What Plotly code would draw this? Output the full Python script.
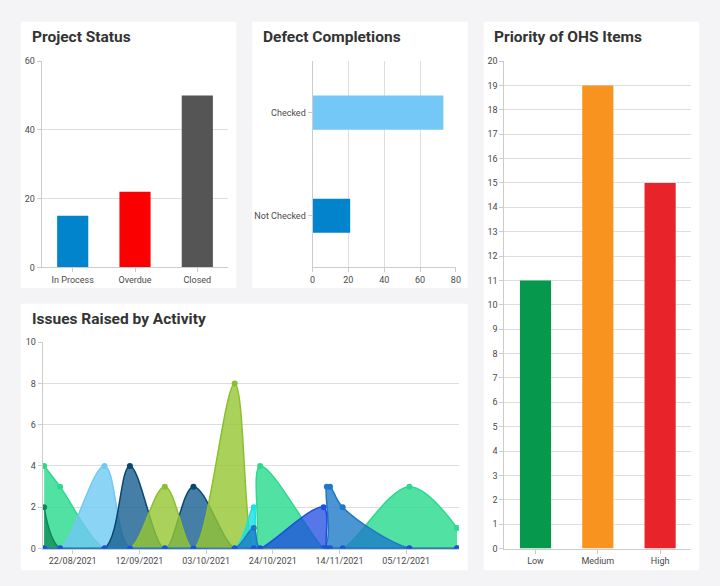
import plotly.graph_objects as go

# ---- data ----
status_labels = ["In Process", "Overdue", "Closed"]
status_values = [15, 22, 50]

defect_labels = ["Not Checked", "Checked"]
defect_values = [21, 73]

ohs_labels = ["Low", "Medium", "High"]
ohs_values = [11, 19, 15]

issue_dates = ["2021-08-13", "2021-08-18", "2021-09-01", "2021-09-09", "2021-09-20",
               "2021-09-29", "2021-10-12", "2021-10-18", "2021-10-20", "2021-11-09",
               "2021-11-10", "2021-11-11", "2021-11-15", "2021-12-06", "2021-12-21"]
issues_mint = [4, 3, 0, 0, 0, 0, 0, 0, 4, 0, 0, 0, 0, 3, 1]
issues_darkgreen = [2, 0, 0, 0, 0, 0, 0, 0, 0, 0, 0, 0, 0, 0, 0]
issues_lightblue = [0, 0, 4, 0, 0, 0, 0, 0, 0, 0, 0, 0, 0, 0, 0]
issues_navy = [0, 0, 0, 4, 0, 3, 0, 0, 0, 0, 0, 0, 0, 0, 0]
issues_olive = [0, 0, 0, 0, 3, 0, 8, 0, 0, 0, 0, 0, 0, 0, 0]
issues_cyan = [0, 0, 0, 0, 0, 0, 0, 2, 0, 0, 0, 0, 0, 0, 0]
issues_steel = [0, 0, 0, 0, 0, 0, 0, 1, 0, 0, 3, 3, 2, 0, 0]
issues_royal = [0, 0, 0, 0, 0, 0, 0, 0, 0, 2, 0, 0, 0, 0, 0]

# ---- page geometry (pixels of a 720x586 page) ----
W, H = 720, 586

def px_x(x):
    return x / W

def px_y(y):
    return 1 - y / H

GRID = "#dedede"
AXIS = "#cccccc"
TICKFONT = dict(family="Roboto", size=9, color="#4a4a4a")

fig = go.Figure()

# Project Status
fig.add_trace(go.Bar(x=status_labels, y=status_values,
                     marker=dict(color=["#0284cc", "#fa0000", "#555555"], line_width=0),
                     xaxis="x", yaxis="y"))

# Defect Completions
fig.add_trace(go.Bar(x=defect_values, y=defect_labels, orientation="h", width=0.33,
                     marker=dict(color=["#0284cc", "#73c8f8"], line_width=0),
                     xaxis="x2", yaxis="y2"))

# Priority of OHS Items
fig.add_trace(go.Bar(x=ohs_labels, y=ohs_values,
                     marker=dict(color=["#06994d", "#f7931e", "#e8232a"], line_width=0),
                     xaxis="x3", yaxis="y3"))

# Issues Raised by Activity - overlapping spline areas
area_series = [
    (issues_mint, "#2ed88e", "rgba(38,217,140,0.8)"),
    (issues_darkgreen, "#12855a", "rgba(19,141,90,0.8)"),
    (issues_lightblue, "#6fc9f2", "rgba(111,201,242,0.8)"),
    (issues_navy, "#08476e", "rgba(22,95,145,0.8)"),
    (issues_olive, "#8cbf2f", "rgba(149,199,49,0.8)"),
    (issues_cyan, "#1ee0e0", "rgba(20,224,224,0.8)"),
    (issues_steel, "#1f78c4", "rgba(30,124,199,0.8)"),
    (issues_royal, "#1d4fe0", "rgba(30,74,224,0.75)"),
]
for vals, line_col, fill_col in area_series:
    fig.add_trace(go.Scatter(x=issue_dates, y=vals, mode="lines+markers",
                             line=dict(color=line_col, width=1.5, shape="spline", smoothing=1),
                             marker=dict(color=line_col, size=6),
                             fill="tozeroy", fillcolor=fill_col,
                             xaxis="x4", yaxis="y4"))

# white panel cards
panels = [(18, 17, 236, 288), (252, 17, 470, 288), (486, 17, 704, 575), (18, 304, 470, 575)]
for x0, y0, x1, y1 in panels:
    fig.add_shape(type="rect", xref="paper", yref="paper",
                  x0=px_x(x0), x1=px_x(x1), y0=px_y(y1), y1=px_y(y0),
                  fillcolor="white", line_width=0, layer="below")

# titles (positions nudged for the annotation's own padding)
titles = [("Project Status", 27, 33), ("Defect Completions", 261, 33),
          ("Priority of OHS Items", 494, 33), ("Issues Raised by Activity", 27, 319)]
for txt, x, y in titles:
    fig.add_annotation(text="<b>" + txt + "</b>", xref="paper", yref="paper",
                       x=px_x(x), y=px_y(y), xanchor="left", yanchor="middle",
                       showarrow=False, font=dict(family="Roboto", size=15.5, color="#333333"))

cat_axis = dict(showgrid=False, showline=True, linecolor=AXIS, ticks="outside",
                ticklen=4, tickcolor=AXIS, tickfont=TICKFONT, fixedrange=True)
val_axis = dict(showgrid=True, gridcolor=GRID, showline=True, linecolor=AXIS,
                zeroline=False, ticks="outside", ticklen=4, tickcolor=AXIS,
                tickfont=TICKFONT, fixedrange=True)

fig.update_layout(
    width=W, height=H,
    margin=dict(l=0, r=0, t=0, b=0),
    paper_bgcolor="#f4f4f6",
    plot_bgcolor="white",
    showlegend=False,
    font=dict(family="Roboto"),
    bargap=0.5,
    xaxis=dict(cat_axis, domain=[px_x(39), px_x(228)], anchor="y"),
    yaxis=dict(val_axis, domain=[px_y(267), px_y(57)], range=[0, 60], dtick=20, anchor="x"),
    xaxis2=dict(val_axis, domain=[px_x(313), px_x(458)], range=[0, 80], dtick=20, anchor="y2"),
    yaxis2=dict(cat_axis, domain=[px_y(267), px_y(57)], anchor="x2"),
    xaxis3=dict(cat_axis, domain=[px_x(507), px_x(696)], anchor="y3"),
    yaxis3=dict(val_axis, domain=[px_y(553), px_y(57)], range=[0, 20], dtick=1, anchor="x3"),
    xaxis4=dict(cat_axis, domain=[px_x(40), px_x(461)], type="date",
                range=["2021-08-12 12:00", "2021-12-21 14:00"],
                tick0="2021-08-22", dtick=21 * 86400000, tickformat="%d/%m/%Y", anchor="y4"),
    yaxis4=dict(val_axis, domain=[px_y(553), px_y(343)], range=[0, 10], dtick=2, anchor="x4"),
)

# drop the default page margin so the figure fills the window
fig.write_html("out.html", config={"displayModeBar": False},
               post_script="document.body.style.margin='0';")
